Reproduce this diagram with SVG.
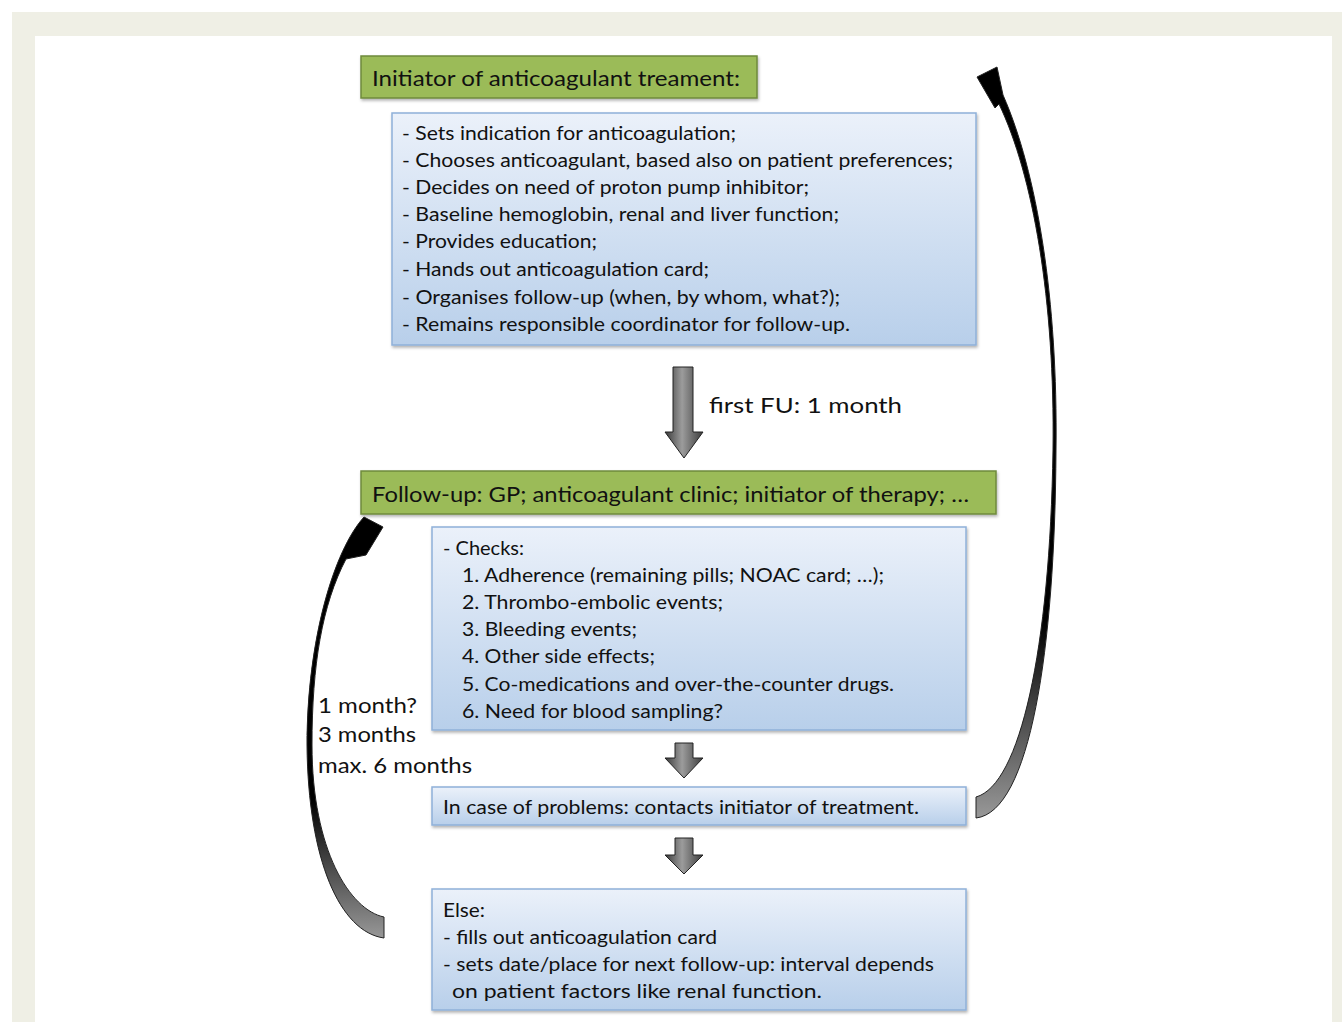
<svg xmlns="http://www.w3.org/2000/svg" width="1342" height="1022" viewBox="0 0 1342 1022">
<style>
.t{font-family:Lato,"Liberation Sans",sans-serif;font-size:18.5px;fill:#111}
.h{font-family:Lato,"Liberation Sans",sans-serif;font-size:21px;fill:#111}
.g{fill:#9bbb59;stroke:#6f8a3c;stroke-width:1.5}
.b{fill:url(#blue);stroke:#8fb0d9;stroke-width:1.5}
.blk{fill:url(#gray);stroke:#222;stroke-width:1}
</style>
<defs>
<linearGradient id="blue" x1="0" y1="0" x2="0" y2="1">
<stop offset="0" stop-color="#ebf1fa"/>
<stop offset="1" stop-color="#b8cfea"/>
</linearGradient>
<linearGradient id="gray" x1="0" y1="0" x2="1" y2="0">
<stop offset="0" stop-color="#3a3a3a"/>
<stop offset="0.45" stop-color="#9c9c9c"/>
<stop offset="1" stop-color="#3c3c3c"/>
</linearGradient>
<linearGradient id="rArr" gradientUnits="userSpaceOnUse" x1="0" y1="820" x2="0" y2="620">
<stop offset="0" stop-color="#9a9a9a"/>
<stop offset="1" stop-color="#000"/>
</linearGradient>
<linearGradient id="lArr" gradientUnits="userSpaceOnUse" x1="0" y1="940" x2="0" y2="800">
<stop offset="0" stop-color="#9a9a9a"/>
<stop offset="1" stop-color="#000"/>
</linearGradient>
<filter id="sh" x="-5%" y="-10%" width="110%" height="130%">
<feDropShadow dx="1" dy="2" stdDeviation="1.5" flood-color="#000" flood-opacity="0.3"/>
</filter>
</defs>
<rect x="0" y="0" width="1342" height="1022" fill="#fff"/>
<rect x="12" y="12" width="1330" height="1010" fill="#efefe5"/>
<rect x="35" y="36" width="1297" height="986" fill="#fff"/>

<g id="initiator-title">
<rect class="g" x="361" y="56" width="396" height="42" filter="url(#sh)"/>
<text class="h" x="372" y="86" textLength="368" lengthAdjust="spacingAndGlyphs">Initiator of anticoagulant treament:</text>
</g>

<g id="initiator-tasks">
<rect class="b" x="392" y="113" width="584" height="232" filter="url(#sh)"/>
<text class="t" x="402" y="140" textLength="334" lengthAdjust="spacingAndGlyphs">- Sets indication for anticoagulation;</text>
<text class="t" x="402" y="167" textLength="551" lengthAdjust="spacingAndGlyphs">- Chooses anticoagulant, based also on patient preferences;</text>
<text class="t" x="402" y="194" textLength="407" lengthAdjust="spacingAndGlyphs">- Decides on need of proton pump inhibitor;</text>
<text class="t" x="402" y="221" textLength="437" lengthAdjust="spacingAndGlyphs">- Baseline hemoglobin, renal and liver function;</text>
<text class="t" x="402" y="248" textLength="195" lengthAdjust="spacingAndGlyphs">- Provides education;</text>
<text class="t" x="402" y="276" textLength="307" lengthAdjust="spacingAndGlyphs">- Hands out anticoagulation card;</text>
<text class="t" x="402" y="304" textLength="438" lengthAdjust="spacingAndGlyphs">- Organises follow-up (when, by whom, what?);</text>
<text class="t" x="402" y="331" textLength="448" lengthAdjust="spacingAndGlyphs">- Remains responsible coordinator for follow-up.</text>
</g>

<g id="followup-title">
<rect class="g" x="361" y="471" width="635" height="43" filter="url(#sh)"/>
<text class="h" x="372" y="502" textLength="597" lengthAdjust="spacingAndGlyphs">Follow-up: GP; anticoagulant clinic; initiator of therapy; …</text>
</g>

<g id="checks">
<rect class="b" x="432" y="527" width="534" height="203" filter="url(#sh)"/>
<text class="t" x="443" y="555" textLength="81" lengthAdjust="spacingAndGlyphs">- Checks:</text>
<text class="t" x="462" y="582" textLength="422" lengthAdjust="spacingAndGlyphs">1. Adherence (remaining pills; NOAC card; …);</text>
<text class="t" x="462" y="609" textLength="261" lengthAdjust="spacingAndGlyphs">2. Thrombo-embolic events;</text>
<text class="t" x="462" y="636" textLength="175" lengthAdjust="spacingAndGlyphs">3. Bleeding events;</text>
<text class="t" x="462" y="663" textLength="193" lengthAdjust="spacingAndGlyphs">4. Other side effects;</text>
<text class="t" x="462" y="691" textLength="432" lengthAdjust="spacingAndGlyphs">5. Co-medications and over-the-counter drugs.</text>
<text class="t" x="462" y="718" textLength="261" lengthAdjust="spacingAndGlyphs">6. Need for blood sampling?</text>
</g>

<g id="problems">
<rect class="b" x="432" y="787" width="534" height="38" filter="url(#sh)"/>
<text class="t" x="443" y="814" textLength="476" lengthAdjust="spacingAndGlyphs">In case of problems: contacts initiator of treatment.</text>
</g>

<g id="else">
<rect class="b" x="432" y="889" width="534" height="121" filter="url(#sh)"/>
<text class="t" x="443" y="917" textLength="42" lengthAdjust="spacingAndGlyphs">Else:</text>
<text class="t" x="443" y="944" textLength="274" lengthAdjust="spacingAndGlyphs">- fills out anticoagulation card</text>
<text class="t" x="443" y="971" textLength="491" lengthAdjust="spacingAndGlyphs">- sets date/place for next follow-up: interval depends</text>
<text class="t" x="452" y="998" textLength="370" lengthAdjust="spacingAndGlyphs">on patient factors like renal function.</text>
</g>

<g id="connectors">
<path class="blk" d="M673,367 H693 V432 H703 L684,458 L665,432 H673 Z"/>
<path class="blk" d="M675,743 H693 V758 H703 L684,778 L665,758 H675 Z"/>
<path class="blk" d="M675,838 H693 V855 H703 L684,874 L665,855 H675 Z"/>
<path fill="url(#rArr)" stroke="#222" stroke-width="1" d="M976,797 C1020,785 1050,650 1053,450 C1055,300 1033,175 999,104 L995,108 L977,77 L997,67 L1003,95 C1037,172 1058,300 1056,450 C1055,650 1030,812 976,818 Z"/>
<path fill="url(#lArr)" stroke="#222" stroke-width="1" d="M383,527 L364,517 C334,550 307,640 307,745 C308,860 340,932 384,938 L384,917 C350,910 312,850 312,745 C312,665 322,605 346,559 L366,555 Z"/>
<text class="h" x="709" y="413" textLength="193" lengthAdjust="spacingAndGlyphs">first FU: 1 month</text>
<text class="h" x="318" y="713" textLength="99" lengthAdjust="spacingAndGlyphs">1 month?</text>
<text class="h" x="318" y="742" textLength="98" lengthAdjust="spacingAndGlyphs">3 months</text>
<text class="h" x="318" y="773" textLength="154" lengthAdjust="spacingAndGlyphs">max. 6 months</text>
</g>
</svg>
